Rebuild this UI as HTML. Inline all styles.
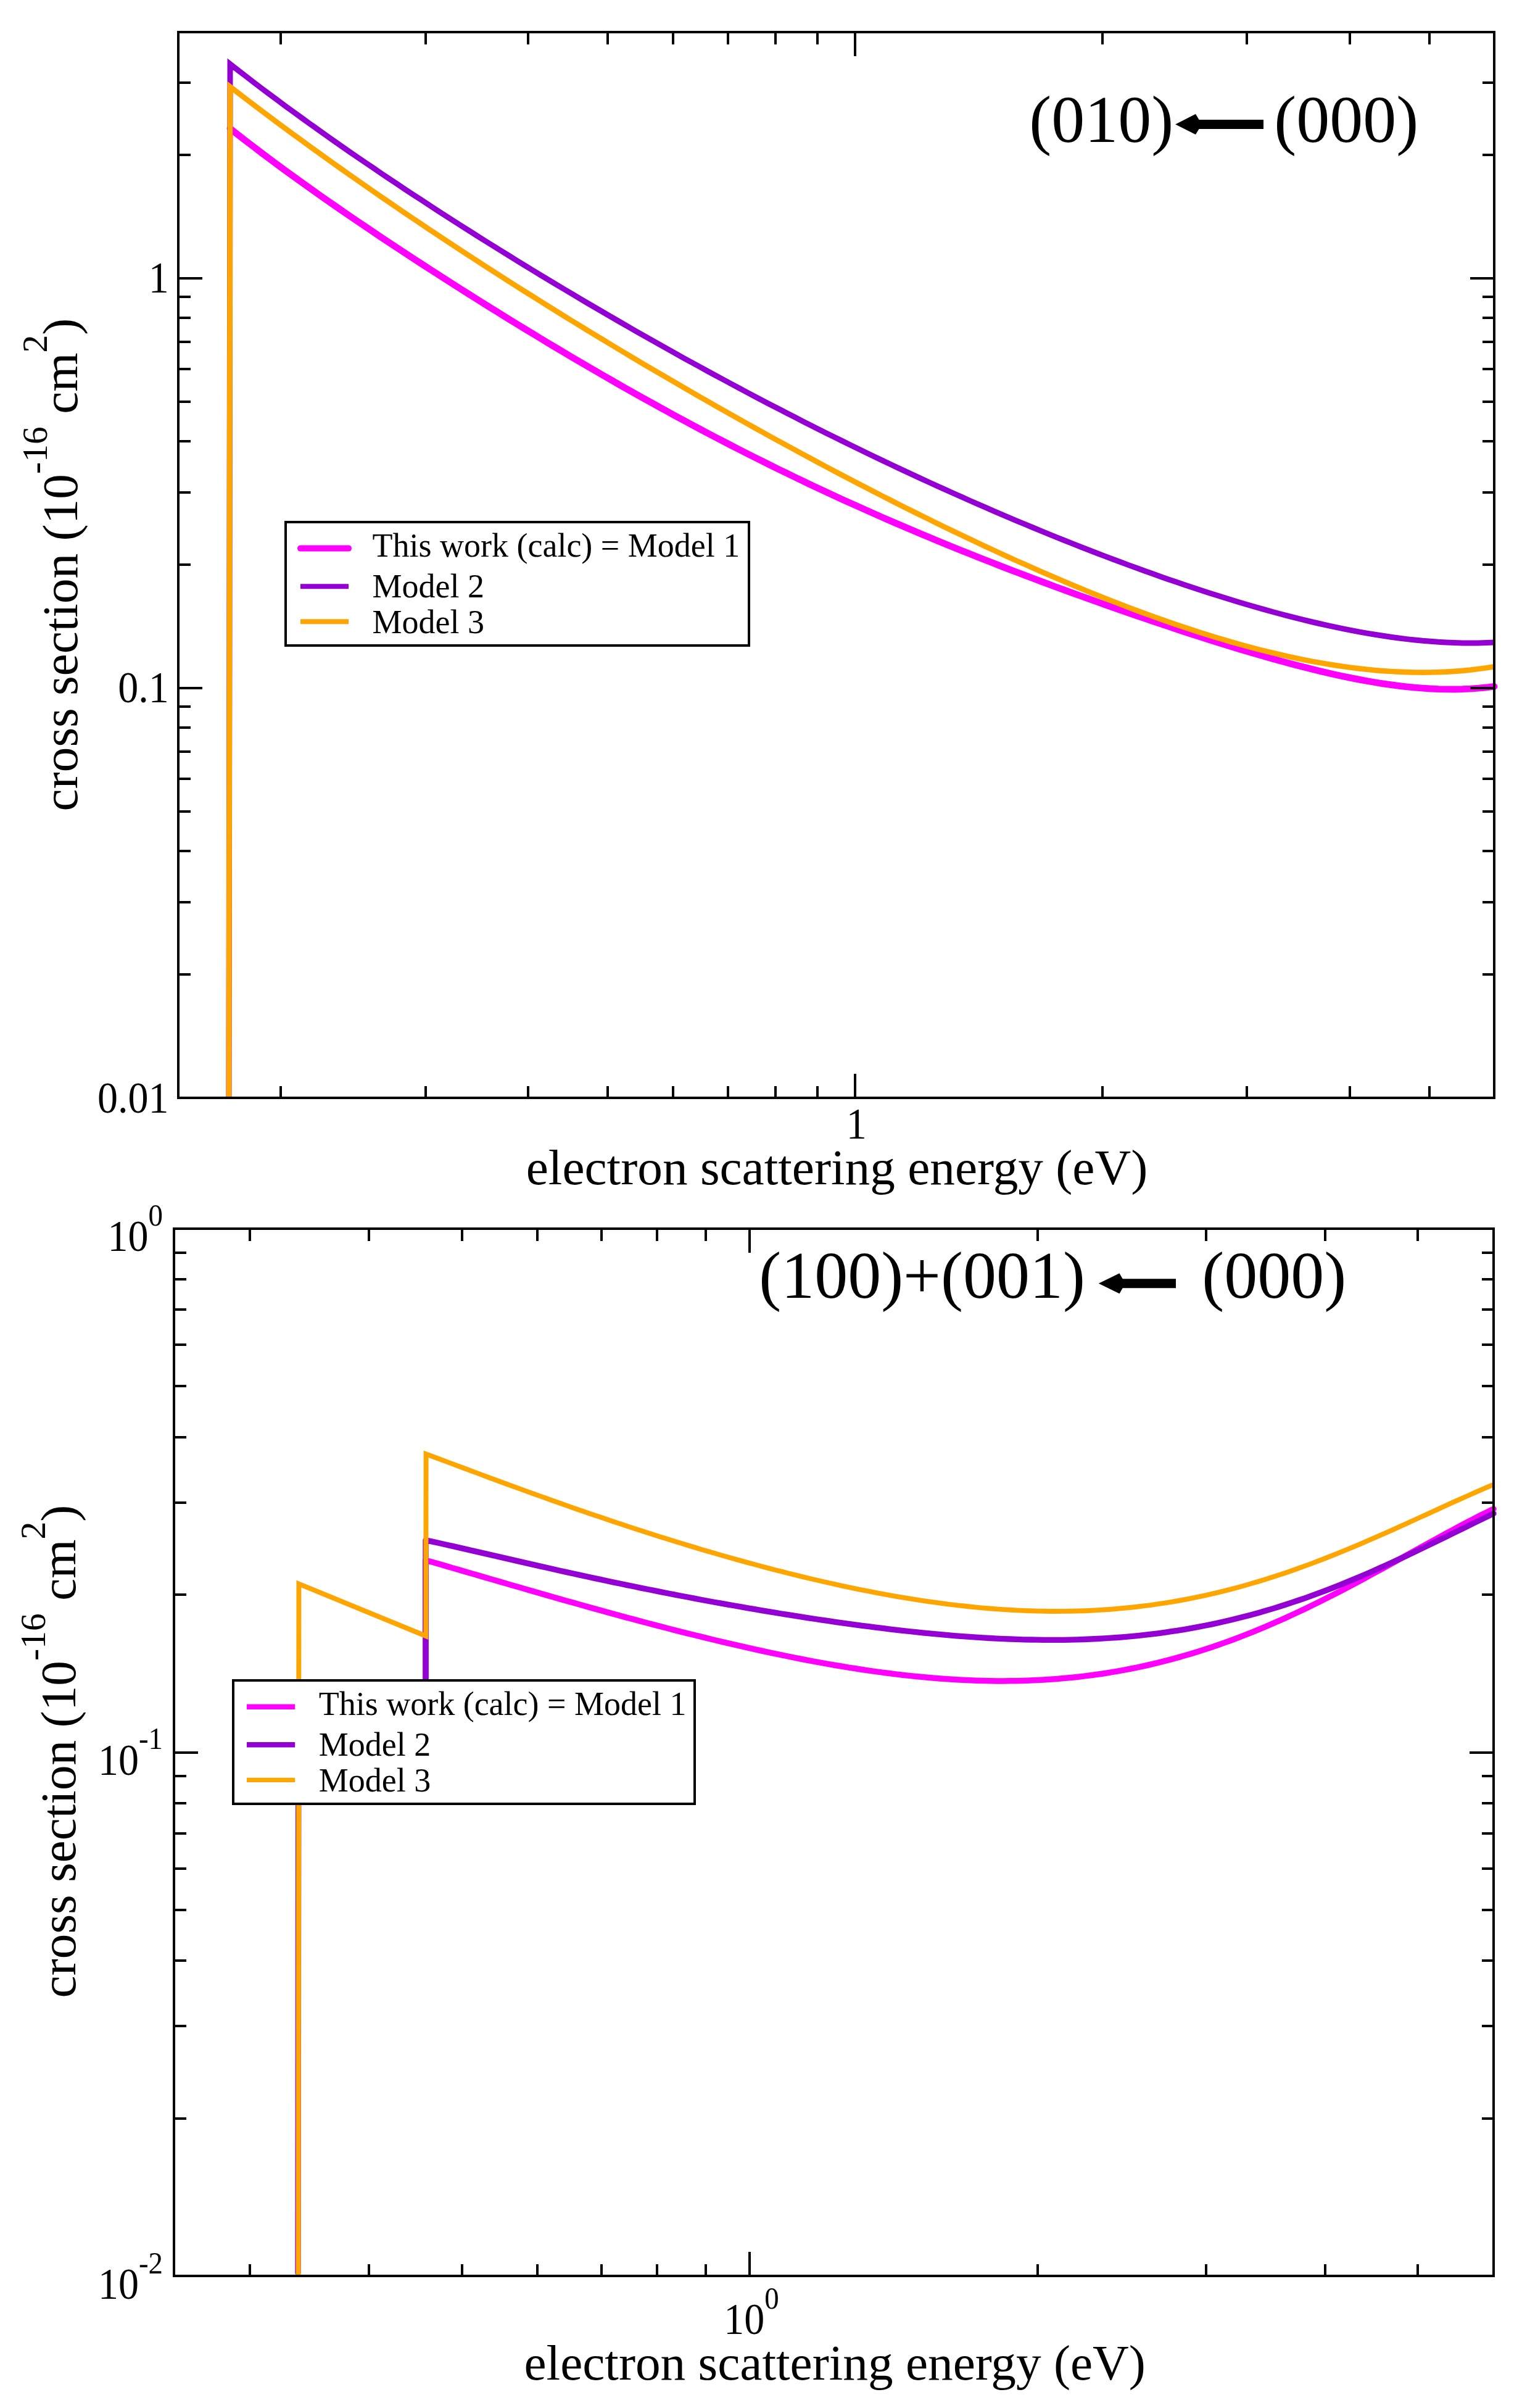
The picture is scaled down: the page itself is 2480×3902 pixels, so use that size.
<!DOCTYPE html>
<html><head><meta charset="utf-8"><title>cross sections</title>
<style>html,body{margin:0;padding:0;background:#fff}svg{display:block}text{font-family:"Liberation Serif",serif;fill:#000}</style>
</head><body>
<svg width="2480" height="3902" viewBox="0 0 2480 3902">
<rect width="2480" height="3902" fill="#fff"/>
<g fill="none" stroke-linejoin="miter" stroke-miterlimit="10">
<path d="M371,1779L373,208.3" stroke="#ff00ff" stroke-width="7"/>
<path d="M373.0,208.3 L385.9,218.5 L398.8,228.5 L411.7,238.3 L424.5,248.1 L437.4,257.8 L450.3,267.3 L463.2,276.8 L476.1,286.1 L489.0,295.4 L501.9,304.6 L514.8,313.8 L527.6,322.8 L540.5,331.8 L553.4,340.7 L566.3,349.6 L579.2,358.4 L592.1,367.1 L605.0,375.8 L617.8,384.4 L630.7,393.0 L643.6,401.5 L656.5,410.0 L669.4,418.5 L682.3,426.9 L695.2,435.2 L708.1,443.5 L720.9,451.8 L733.8,460.0 L746.7,468.2 L759.6,476.4 L772.5,484.5 L785.4,492.6 L798.3,500.6 L811.2,508.6 L824.0,516.6 L836.9,524.5 L849.8,532.4 L862.7,540.2 L875.6,548.0 L888.5,555.8 L901.4,563.5 L914.2,571.2 L927.1,578.8 L940.0,586.4 L952.9,593.9 L965.8,601.4 L978.7,608.9 L991.6,616.3 L1004.5,623.7 L1017.3,631.0 L1030.2,638.2 L1043.1,645.5 L1056.0,652.6 L1068.9,659.8 L1081.8,666.8 L1094.7,673.9 L1107.5,680.8 L1120.4,687.8 L1133.3,694.6 L1146.2,701.5 L1159.1,708.2 L1172.0,714.9 L1184.9,721.6 L1197.8,728.2 L1210.6,734.8 L1223.5,741.3 L1236.4,747.7 L1249.3,754.1 L1262.2,760.5 L1275.1,766.7 L1288.0,773.0 L1300.8,779.2 L1313.7,785.3 L1326.6,791.4 L1339.5,797.4 L1352.4,803.3 L1365.3,809.3 L1378.2,815.1 L1391.1,820.9 L1403.9,826.7 L1416.8,832.4 L1429.7,838.1 L1442.6,843.7 L1455.5,849.3 L1468.4,854.8 L1481.3,860.3 L1494.2,865.7 L1507.0,871.1 L1519.9,876.4 L1532.8,881.7 L1545.7,886.9 L1558.6,892.2 L1571.5,897.3 L1584.4,902.5 L1597.2,907.5 L1610.1,912.6 L1623.0,917.6 L1635.9,922.6 L1648.8,927.5 L1661.7,932.4 L1674.6,937.3 L1687.5,942.1 L1700.3,946.9 L1713.2,951.7 L1726.1,956.4 L1739.0,961.1 L1751.9,965.8 L1764.8,970.4 L1777.7,975.0 L1790.5,979.6 L1803.4,984.2 L1816.3,988.7 L1829.2,993.2 L1842.1,997.6 L1855.0,1002.0 L1867.9,1006.4 L1880.8,1010.7 L1893.6,1015.0 L1906.5,1019.3 L1919.4,1023.6 L1932.3,1027.8 L1945.2,1031.9 L1958.1,1036.0 L1971.0,1040.1 L1983.8,1044.1 L1996.7,1048.1 L2009.6,1052.0 L2022.5,1055.8 L2035.4,1059.6 L2048.3,1063.3 L2061.2,1067.0 L2074.1,1070.6 L2086.9,1074.1 L2099.8,1077.5 L2112.7,1080.8 L2125.6,1084.1 L2138.5,1087.2 L2151.4,1090.2 L2164.3,1093.2 L2177.2,1096.0 L2190.0,1098.6 L2202.9,1101.1 L2215.8,1103.5 L2228.7,1105.7 L2241.6,1107.8 L2254.5,1109.7 L2267.4,1111.4 L2280.2,1112.9 L2293.1,1114.2 L2306.0,1115.2 L2318.9,1116.0 L2331.8,1116.6 L2344.7,1116.9 L2357.6,1117.0 L2370.5,1116.7 L2383.3,1116.1 L2396.2,1115.2 L2409.1,1114.0 L2422.0,1112.4" stroke="#ff00ff" stroke-width="10.8" stroke-linecap="round" stroke-linejoin="round"/>
<path d="M371.0,1779.0 L373.0,103.8 L385.9,113.9 L398.8,123.8 L411.7,133.7 L424.5,143.5 L437.4,153.2 L450.3,162.7 L463.2,172.3 L476.1,181.7 L489.0,191.0 L501.9,200.3 L514.8,209.5 L527.6,218.7 L540.5,227.7 L553.4,236.7 L566.3,245.7 L579.2,254.6 L592.1,263.4 L605.0,272.1 L617.8,280.9 L630.7,289.5 L643.6,298.1 L656.5,306.7 L669.4,315.2 L682.3,323.6 L695.2,332.0 L708.1,340.4 L720.9,348.7 L733.8,357.0 L746.7,365.2 L759.6,373.4 L772.5,381.6 L785.4,389.7 L798.3,397.7 L811.2,405.8 L824.0,413.7 L836.9,421.7 L849.8,429.6 L862.7,437.5 L875.6,445.3 L888.5,453.1 L901.4,460.8 L914.2,468.5 L927.1,476.2 L940.0,483.9 L952.9,491.5 L965.8,499.0 L978.7,506.5 L991.6,514.0 L1004.5,521.5 L1017.3,528.9 L1030.2,536.3 L1043.1,543.6 L1056.0,550.9 L1068.9,558.2 L1081.8,565.4 L1094.7,572.6 L1107.5,579.8 L1120.4,586.9 L1133.3,593.9 L1146.2,601.0 L1159.1,608.0 L1172.0,614.9 L1184.9,621.9 L1197.8,628.7 L1210.6,635.6 L1223.5,642.4 L1236.4,649.2 L1249.3,655.9 L1262.2,662.6 L1275.1,669.2 L1288.0,675.8 L1300.8,682.4 L1313.7,688.9 L1326.6,695.4 L1339.5,701.9 L1352.4,708.3 L1365.3,714.6 L1378.2,721.0 L1391.1,727.3 L1403.9,733.5 L1416.8,739.7 L1429.7,745.9 L1442.6,752.0 L1455.5,758.1 L1468.4,764.1 L1481.3,770.1 L1494.2,776.1 L1507.0,782.0 L1519.9,787.9 L1532.8,793.7 L1545.7,799.5 L1558.6,805.2 L1571.5,811.0 L1584.4,816.6 L1597.2,822.2 L1610.1,827.8 L1623.0,833.3 L1635.9,838.8 L1648.8,844.3 L1661.7,849.7 L1674.6,855.0 L1687.5,860.4 L1700.3,865.6 L1713.2,870.8 L1726.1,876.0 L1739.0,881.1 L1751.9,886.2 L1764.8,891.2 L1777.7,896.2 L1790.5,901.1 L1803.4,906.0 L1816.3,910.8 L1829.2,915.6 L1842.1,920.3 L1855.0,925.0 L1867.9,929.6 L1880.8,934.2 L1893.6,938.7 L1906.5,943.1 L1919.4,947.5 L1932.3,951.8 L1945.2,956.0 L1958.1,960.2 L1971.0,964.3 L1983.8,968.3 L1996.7,972.3 L2009.6,976.2 L2022.5,980.0 L2035.4,983.8 L2048.3,987.4 L2061.2,991.0 L2074.1,994.5 L2086.9,997.9 L2099.8,1001.2 L2112.7,1004.4 L2125.6,1007.5 L2138.5,1010.5 L2151.4,1013.4 L2164.3,1016.2 L2177.2,1018.8 L2190.0,1021.4 L2202.9,1023.8 L2215.8,1026.1 L2228.7,1028.3 L2241.6,1030.3 L2254.5,1032.2 L2267.4,1034.0 L2280.2,1035.6 L2293.1,1037.0 L2306.0,1038.3 L2318.9,1039.3 L2331.8,1040.3 L2344.7,1041.0 L2357.6,1041.5 L2370.5,1041.9 L2383.3,1042.0 L2396.2,1041.9 L2409.1,1041.6 L2422.0,1041.1" stroke="#9400d3" stroke-width="9"/>
<path d="M371.0,1779.0 L373.0,140.6 L385.9,150.5 L398.8,160.4 L411.7,170.2 L424.5,179.9 L437.4,189.6 L450.3,199.2 L463.2,208.7 L476.1,218.2 L489.0,227.6 L501.9,237.0 L514.8,246.3 L527.6,255.5 L540.5,264.7 L553.4,273.9 L566.3,283.0 L579.2,292.0 L592.1,301.0 L605.0,310.0 L617.8,318.9 L630.7,327.7 L643.6,336.5 L656.5,345.3 L669.4,354.0 L682.3,362.7 L695.2,371.3 L708.1,379.9 L720.9,388.4 L733.8,396.9 L746.7,405.4 L759.6,413.8 L772.5,422.2 L785.4,430.6 L798.3,438.9 L811.2,447.1 L824.0,455.4 L836.9,463.6 L849.8,471.7 L862.7,479.8 L875.6,487.9 L888.5,496.0 L901.4,504.0 L914.2,512.0 L927.1,519.9 L940.0,527.8 L952.9,535.7 L965.8,543.5 L978.7,551.3 L991.6,559.1 L1004.5,566.9 L1017.3,574.6 L1030.2,582.2 L1043.1,589.9 L1056.0,597.5 L1068.9,605.1 L1081.8,612.6 L1094.7,620.1 L1107.5,627.6 L1120.4,635.0 L1133.3,642.4 L1146.2,649.8 L1159.1,657.2 L1172.0,664.5 L1184.9,671.8 L1197.8,679.0 L1210.6,686.2 L1223.5,693.4 L1236.4,700.5 L1249.3,707.7 L1262.2,714.7 L1275.1,721.8 L1288.0,728.8 L1300.8,735.8 L1313.7,742.7 L1326.6,749.6 L1339.5,756.5 L1352.4,763.3 L1365.3,770.1 L1378.2,776.8 L1391.1,783.6 L1403.9,790.2 L1416.8,796.9 L1429.7,803.5 L1442.6,810.0 L1455.5,816.6 L1468.4,823.1 L1481.3,829.5 L1494.2,835.9 L1507.0,842.2 L1519.9,848.6 L1532.8,854.8 L1545.7,861.0 L1558.6,867.2 L1571.5,873.3 L1584.4,879.4 L1597.2,885.5 L1610.1,891.4 L1623.0,897.4 L1635.9,903.2 L1648.8,909.1 L1661.7,914.8 L1674.6,920.5 L1687.5,926.2 L1700.3,931.8 L1713.2,937.3 L1726.1,942.8 L1739.0,948.2 L1751.9,953.6 L1764.8,958.9 L1777.7,964.1 L1790.5,969.2 L1803.4,974.3 L1816.3,979.3 L1829.2,984.2 L1842.1,989.1 L1855.0,993.8 L1867.9,998.5 L1880.8,1003.1 L1893.6,1007.7 L1906.5,1012.1 L1919.4,1016.4 L1932.3,1020.7 L1945.2,1024.8 L1958.1,1028.9 L1971.0,1032.9 L1983.8,1036.7 L1996.7,1040.5 L2009.6,1044.1 L2022.5,1047.6 L2035.4,1051.1 L2048.3,1054.4 L2061.2,1057.5 L2074.1,1060.6 L2086.9,1063.5 L2099.8,1066.3 L2112.7,1068.9 L2125.6,1071.5 L2138.5,1073.8 L2151.4,1076.0 L2164.3,1078.1 L2177.2,1080.0 L2190.0,1081.8 L2202.9,1083.4 L2215.8,1084.8 L2228.7,1086.1 L2241.6,1087.1 L2254.5,1088.0 L2267.4,1088.7 L2280.2,1089.2 L2293.1,1089.5 L2306.0,1089.6 L2318.9,1089.5 L2331.8,1089.2 L2344.7,1088.6 L2357.6,1087.8 L2370.5,1086.8 L2383.3,1085.6 L2396.2,1084.0 L2409.1,1082.3 L2422.0,1080.3" stroke="#ffa500" stroke-width="8.7"/>
<path d="M690.0,2805.0 L690.0,2528.2 L700.9,2531.3 L711.8,2534.4 L722.7,2537.6 L733.5,2540.7 L744.4,2543.9 L755.3,2547.1 L766.2,2550.2 L777.1,2553.4 L788.0,2556.6 L798.9,2559.7 L809.8,2562.9 L820.6,2566.0 L831.5,2569.2 L842.4,2572.3 L853.3,2575.5 L864.2,2578.6 L875.1,2581.7 L886.0,2584.9 L896.8,2588.0 L907.7,2591.1 L918.6,2594.2 L929.5,2597.2 L940.4,2600.3 L951.3,2603.3 L962.2,2606.4 L973.1,2609.4 L983.9,2612.4 L994.8,2615.4 L1005.7,2618.3 L1016.6,2621.3 L1027.5,2624.2 L1038.4,2627.1 L1049.3,2630.0 L1060.2,2632.8 L1071.0,2635.7 L1081.9,2638.5 L1092.8,2641.3 L1103.7,2644.1 L1114.6,2646.8 L1125.5,2649.5 L1136.4,2652.2 L1147.2,2654.9 L1158.1,2657.5 L1169.0,2660.1 L1179.9,2662.7 L1190.8,2665.2 L1201.7,2667.7 L1212.6,2670.2 L1223.5,2672.6 L1234.3,2675.0 L1245.2,2677.3 L1256.1,2679.6 L1267.0,2681.9 L1277.9,2684.1 L1288.8,2686.3 L1299.7,2688.5 L1310.5,2690.6 L1321.4,2692.6 L1332.3,2694.6 L1343.2,2696.6 L1354.1,2698.5 L1365.0,2700.3 L1375.9,2702.1 L1386.8,2703.8 L1397.6,2705.5 L1408.5,2707.1 L1419.4,2708.6 L1430.3,2710.1 L1441.2,2711.5 L1452.1,2712.9 L1463.0,2714.2 L1473.8,2715.4 L1484.7,2716.5 L1495.6,2717.6 L1506.5,2718.6 L1517.4,2719.5 L1528.3,2720.3 L1539.2,2721.1 L1550.1,2721.7 L1560.9,2722.3 L1571.8,2722.8 L1582.7,2723.2 L1593.6,2723.5 L1604.5,2723.7 L1615.4,2723.9 L1626.3,2723.9 L1637.2,2723.8 L1648.0,2723.7 L1658.9,2723.4 L1669.8,2723.0 L1680.7,2722.5 L1691.6,2722.0 L1702.5,2721.3 L1713.4,2720.5 L1724.2,2719.6 L1735.1,2718.5 L1746.0,2717.4 L1756.9,2716.1 L1767.8,2714.8 L1778.7,2713.3 L1789.6,2711.7 L1800.5,2709.9 L1811.3,2708.1 L1822.2,2706.1 L1833.1,2704.0 L1844.0,2701.8 L1854.9,2699.5 L1865.8,2697.0 L1876.7,2694.4 L1887.5,2691.7 L1898.4,2688.9 L1909.3,2685.9 L1920.2,2682.8 L1931.1,2679.6 L1942.0,2676.2 L1952.9,2672.8 L1963.8,2669.2 L1974.6,2665.5 L1985.5,2661.6 L1996.4,2657.7 L2007.3,2653.6 L2018.2,2649.4 L2029.1,2645.1 L2040.0,2640.6 L2050.8,2636.1 L2061.7,2631.4 L2072.6,2626.7 L2083.5,2621.8 L2094.4,2616.8 L2105.3,2611.7 L2116.2,2606.6 L2127.1,2601.3 L2137.9,2595.9 L2148.8,2590.5 L2159.7,2585.0 L2170.6,2579.4 L2181.5,2573.7 L2192.4,2568.0 L2203.3,2562.2 L2214.2,2556.3 L2225.0,2550.4 L2235.9,2544.5 L2246.8,2538.5 L2257.7,2532.5 L2268.6,2526.5 L2279.5,2520.4 L2290.4,2514.4 L2301.2,2508.4 L2312.1,2502.3 L2323.0,2496.3 L2333.9,2490.4 L2344.8,2484.4 L2355.7,2478.6 L2366.6,2472.7 L2377.5,2467.0 L2388.3,2461.4 L2399.2,2455.8 L2410.1,2450.4 L2421.0,2445.0" stroke="#ff00ff" stroke-width="9.5" stroke-linecap="round" stroke-linejoin="round"/>
<path d="M483.0,3683.0 L483.9,2730.0 L690.0,2790.0 L690.0,2495.7 L700.9,2498.1 L711.8,2500.5 L722.7,2503.0 L733.5,2505.4 L744.4,2507.9 L755.3,2510.4 L766.2,2512.9 L777.1,2515.4 L788.0,2517.9 L798.9,2520.4 L809.8,2522.9 L820.6,2525.4 L831.5,2527.9 L842.4,2530.4 L853.3,2532.9 L864.2,2535.4 L875.1,2537.9 L886.0,2540.3 L896.8,2542.8 L907.7,2545.2 L918.6,2547.6 L929.5,2550.0 L940.4,2552.4 L951.3,2554.8 L962.2,2557.1 L973.1,2559.4 L983.9,2561.8 L994.8,2564.1 L1005.7,2566.3 L1016.6,2568.6 L1027.5,2570.8 L1038.4,2573.1 L1049.3,2575.3 L1060.2,2577.4 L1071.0,2579.6 L1081.9,2581.7 L1092.8,2583.9 L1103.7,2586.0 L1114.6,2588.0 L1125.5,2590.1 L1136.4,2592.2 L1147.2,2594.2 L1158.1,2596.2 L1169.0,2598.1 L1179.9,2600.1 L1190.8,2602.0 L1201.7,2603.9 L1212.6,2605.8 L1223.5,2607.7 L1234.3,2609.6 L1245.2,2611.4 L1256.1,2613.2 L1267.0,2615.0 L1277.9,2616.7 L1288.8,2618.4 L1299.7,2620.1 L1310.5,2621.8 L1321.4,2623.5 L1332.3,2625.1 L1343.2,2626.7 L1354.1,2628.3 L1365.0,2629.8 L1375.9,2631.3 L1386.8,2632.8 L1397.6,2634.3 L1408.5,2635.7 L1419.4,2637.1 L1430.3,2638.4 L1441.2,2639.8 L1452.1,2641.1 L1463.0,2642.3 L1473.8,2643.5 L1484.7,2644.7 L1495.6,2645.8 L1506.5,2646.9 L1517.4,2647.9 L1528.3,2648.9 L1539.2,2649.9 L1550.1,2650.8 L1560.9,2651.6 L1571.8,2652.4 L1582.7,2653.2 L1593.6,2653.9 L1604.5,2654.5 L1615.4,2655.1 L1626.3,2655.6 L1637.2,2656.0 L1648.0,2656.4 L1658.9,2656.8 L1669.8,2657.0 L1680.7,2657.2 L1691.6,2657.3 L1702.5,2657.4 L1713.4,2657.4 L1724.2,2657.3 L1735.1,2657.1 L1746.0,2656.8 L1756.9,2656.5 L1767.8,2656.0 L1778.7,2655.5 L1789.6,2654.9 L1800.5,2654.2 L1811.3,2653.5 L1822.2,2652.6 L1833.1,2651.6 L1844.0,2650.6 L1854.9,2649.4 L1865.8,2648.1 L1876.7,2646.8 L1887.5,2645.3 L1898.4,2643.7 L1909.3,2642.1 L1920.2,2640.3 L1931.1,2638.4 L1942.0,2636.4 L1952.9,2634.3 L1963.8,2632.1 L1974.6,2629.7 L1985.5,2627.3 L1996.4,2624.7 L2007.3,2622.1 L2018.2,2619.3 L2029.1,2616.4 L2040.0,2613.4 L2050.8,2610.3 L2061.7,2607.1 L2072.6,2603.7 L2083.5,2600.3 L2094.4,2596.7 L2105.3,2593.0 L2116.2,2589.3 L2127.1,2585.4 L2137.9,2581.4 L2148.8,2577.3 L2159.7,2573.1 L2170.6,2568.8 L2181.5,2564.4 L2192.4,2559.9 L2203.3,2555.4 L2214.2,2550.7 L2225.0,2546.0 L2235.9,2541.1 L2246.8,2536.3 L2257.7,2531.3 L2268.6,2526.3 L2279.5,2521.2 L2290.4,2516.0 L2301.2,2510.8 L2312.1,2505.6 L2323.0,2500.3 L2333.9,2495.0 L2344.8,2489.7 L2355.7,2484.4 L2366.6,2479.0 L2377.5,2473.7 L2388.3,2468.4 L2399.2,2463.1 L2410.1,2457.8 L2421.0,2452.6" stroke="#9400d3" stroke-width="9.3" stroke-linecap="round" stroke-linejoin="round"/>
<path d="M483.5,3688.0 L484.4,2566.6 L690.3,2651.0 L690.6,2356.2 L701.5,2360.2 L712.4,2364.3 L723.2,2368.4 L734.1,2372.4 L745.0,2376.5 L755.9,2380.5 L766.8,2384.6 L777.7,2388.6 L788.5,2392.7 L799.4,2396.7 L810.3,2400.7 L821.2,2404.7 L832.1,2408.7 L843.0,2412.6 L853.8,2416.6 L864.7,2420.5 L875.6,2424.4 L886.5,2428.3 L897.4,2432.2 L908.3,2436.0 L919.1,2439.9 L930.0,2443.7 L940.9,2447.4 L951.8,2451.2 L962.7,2454.9 L973.6,2458.6 L984.4,2462.3 L995.3,2465.9 L1006.2,2469.6 L1017.1,2473.2 L1028.0,2476.7 L1038.9,2480.2 L1049.7,2483.8 L1060.6,2487.2 L1071.5,2490.7 L1082.4,2494.1 L1093.3,2497.5 L1104.2,2500.8 L1115.0,2504.1 L1125.9,2507.4 L1136.8,2510.7 L1147.7,2513.9 L1158.6,2517.0 L1169.5,2520.2 L1180.3,2523.3 L1191.2,2526.4 L1202.1,2529.4 L1213.0,2532.4 L1223.9,2535.3 L1234.8,2538.2 L1245.6,2541.1 L1256.5,2544.0 L1267.4,2546.7 L1278.3,2549.5 L1289.2,2552.2 L1300.0,2554.8 L1310.9,2557.5 L1321.8,2560.0 L1332.7,2562.5 L1343.6,2565.0 L1354.5,2567.4 L1365.3,2569.8 L1376.2,2572.1 L1387.1,2574.4 L1398.0,2576.6 L1408.9,2578.7 L1419.8,2580.8 L1430.6,2582.9 L1441.5,2584.9 L1452.4,2586.8 L1463.3,2588.6 L1474.2,2590.4 L1485.1,2592.2 L1495.9,2593.8 L1506.8,2595.4 L1517.7,2596.9 L1528.6,2598.4 L1539.5,2599.8 L1550.4,2601.1 L1561.2,2602.3 L1572.1,2603.5 L1583.0,2604.6 L1593.9,2605.6 L1604.8,2606.5 L1615.7,2607.4 L1626.5,2608.1 L1637.4,2608.8 L1648.3,2609.4 L1659.2,2609.9 L1670.1,2610.3 L1681.0,2610.6 L1691.8,2610.8 L1702.7,2611.0 L1713.6,2611.0 L1724.5,2610.9 L1735.4,2610.8 L1746.3,2610.5 L1757.1,2610.2 L1768.0,2609.7 L1778.9,2609.1 L1789.8,2608.5 L1800.7,2607.7 L1811.6,2606.8 L1822.4,2605.8 L1833.3,2604.7 L1844.2,2603.5 L1855.1,2602.2 L1866.0,2600.8 L1876.8,2599.2 L1887.7,2597.6 L1898.6,2595.8 L1909.5,2594.0 L1920.4,2592.0 L1931.3,2589.9 L1942.1,2587.6 L1953.0,2585.3 L1963.9,2582.9 L1974.8,2580.3 L1985.7,2577.6 L1996.6,2574.9 L2007.4,2572.0 L2018.3,2569.0 L2029.2,2565.8 L2040.1,2562.6 L2051.0,2559.3 L2061.9,2555.8 L2072.7,2552.3 L2083.6,2548.7 L2094.5,2544.9 L2105.4,2541.1 L2116.3,2537.1 L2127.2,2533.1 L2138.0,2529.0 L2148.9,2524.8 L2159.8,2520.5 L2170.7,2516.1 L2181.6,2511.7 L2192.5,2507.2 L2203.3,2502.6 L2214.2,2497.9 L2225.1,2493.2 L2236.0,2488.4 L2246.9,2483.6 L2257.8,2478.8 L2268.6,2473.9 L2279.5,2469.0 L2290.4,2464.0 L2301.3,2459.0 L2312.2,2454.1 L2323.1,2449.1 L2333.9,2444.1 L2344.8,2439.2 L2355.7,2434.2 L2366.6,2429.3 L2377.5,2424.5 L2388.4,2419.7 L2399.2,2414.9 L2410.1,2410.2 L2421.0,2405.6" stroke="#ffa500" stroke-width="7.9"/>
</g>
<g shape-rendering="crispEdges">
<rect x="289" y="52" width="2133" height="1727" fill="none" stroke="#000" stroke-width="4"/>
<path d="M1386.0,1779v-39M1386.0,52v39M455.3,1779v-19.5M455.3,52v19.5M689.8,1779v-19.5M689.8,52v19.5M856.1,1779v-19.5M856.1,52v19.5M985.2,1779v-19.5M985.2,52v19.5M1090.6,1779v-19.5M1090.6,52v19.5M1179.7,1779v-19.5M1179.7,52v19.5M1256.9,1779v-19.5M1256.9,52v19.5M1325.0,1779v-19.5M1325.0,52v19.5M1786.8,1779v-19.5M1786.8,52v19.5M2021.2,1779v-19.5M2021.2,52v19.5M2187.6,1779v-19.5M2187.6,52v19.5M2316.6,1779v-19.5M2316.6,52v19.5M289,1115.0h39M2422,1115.0h-39M289,451.0h39M2422,451.0h-39M289,1579.1h19.5M2422,1579.1h-19.5M289,1462.2h19.5M2422,1462.2h-19.5M289,1379.2h19.5M2422,1379.2h-19.5M289,1314.9h19.5M2422,1314.9h-19.5M289,1262.3h19.5M2422,1262.3h-19.5M289,1217.9h19.5M2422,1217.9h-19.5M289,1179.3h19.5M2422,1179.3h-19.5M289,1145.4h19.5M2422,1145.4h-19.5M289,915.1h19.5M2422,915.1h-19.5M289,798.2h19.5M2422,798.2h-19.5M289,715.2h19.5M2422,715.2h-19.5M289,650.9h19.5M2422,650.9h-19.5M289,598.3h19.5M2422,598.3h-19.5M289,553.9h19.5M2422,553.9h-19.5M289,515.3h19.5M2422,515.3h-19.5M289,481.4h19.5M2422,481.4h-19.5M289,251.1h19.5M2422,251.1h-19.5M289,134.2h19.5M2422,134.2h-19.5" fill="none" stroke="#000" stroke-width="4"/>
<rect x="282" y="1991" width="2139" height="1697" fill="none" stroke="#000" stroke-width="4"/>
<path d="M1215.1,3688v-39M1215.1,1991v39M404.7,3688v-19.5M404.7,1991v19.5M598.3,3688v-19.5M598.3,1991v19.5M748.5,3688v-19.5M748.5,1991v19.5M871.2,3688v-19.5M871.2,1991v19.5M975.0,3688v-19.5M975.0,1991v19.5M1064.9,3688v-19.5M1064.9,1991v19.5M1144.1,3688v-19.5M1144.1,1991v19.5M1681.6,3688v-19.5M1681.6,1991v19.5M1954.5,3688v-19.5M1954.5,1991v19.5M2148.1,3688v-19.5M2148.1,1991v19.5M2298.3,3688v-19.5M2298.3,1991v19.5M282,2839.5h39M2421,2839.5h-39M282,3432.6h19.5M2421,3432.6h-19.5M282,3283.2h19.5M2421,3283.2h-19.5M282,3177.2h19.5M2421,3177.2h-19.5M282,3094.9h19.5M2421,3094.9h-19.5M282,3027.7h19.5M2421,3027.7h-19.5M282,2970.9h19.5M2421,2970.9h-19.5M282,2921.7h19.5M2421,2921.7h-19.5M282,2878.3h19.5M2421,2878.3h-19.5M282,2584.1h19.5M2421,2584.1h-19.5M282,2434.7h19.5M2421,2434.7h-19.5M282,2328.7h19.5M2421,2328.7h-19.5M282,2246.4h19.5M2421,2246.4h-19.5M282,2179.2h19.5M2421,2179.2h-19.5M282,2122.4h19.5M2421,2122.4h-19.5M282,2073.2h19.5M2421,2073.2h-19.5M282,2029.8h19.5M2421,2029.8h-19.5" fill="none" stroke="#000" stroke-width="4"/>
</g>
<rect x="463" y="846.3" width="750.5" height="199.5" fill="#fff" stroke="#000" stroke-width="4" shape-rendering="crispEdges"/>
<path d="M487,888.5999999999999H565" stroke="#ff00ff" stroke-width="10" stroke-linecap="round"/>
<path d="M487,950.1999999999999H565" stroke="#9400d3" stroke-width="8"/>
<path d="M487,1007.3H565" stroke="#ffa500" stroke-width="8"/>
<text x="603.5" y="902.1999999999999" font-size="54">This work (calc) = Model 1</text>
<text x="603.5" y="967.9" font-size="54">Model 2</text>
<text x="603.5" y="1025.8" font-size="54">Model 3</text>
<rect x="378.2" y="2723.4" width="747.3" height="199.5" fill="#fff" stroke="#000" stroke-width="4" shape-rendering="crispEdges"/>
<path d="M400,2765.7000000000003H478.2" stroke="#ff00ff" stroke-width="8.5"/>
<path d="M400,2827.3H478.2" stroke="#9400d3" stroke-width="8.5"/>
<path d="M400,2884.4H478.2" stroke="#ffa500" stroke-width="7.3"/>
<text x="516.7" y="2779.3" font-size="54">This work (calc) = Model 1</text>
<text x="516.7" y="2845.0" font-size="54">Model 2</text>
<text x="516.7" y="2902.9" font-size="54">Model 3</text>
<text transform="translate(273.8,474) scale(0.93,1)" font-size="71" text-anchor="end">1</text>
<text transform="translate(273.8,1138.3) scale(0.93,1)" font-size="71" text-anchor="end">0.1</text>
<text transform="translate(273.5,1802.5) scale(0.93,1)" font-size="71" text-anchor="end">0.01</text>
<text transform="translate(1388.3,1845.2) scale(0.93,1)" font-size="71" text-anchor="middle">1</text>
<text transform="translate(264,2027.3) scale(0.93,1)" font-size="71" text-anchor="end">10<tspan font-size="50.4" dy="-41.1">0</tspan></text>
<text transform="translate(264,2875.5) scale(0.93,1)" font-size="71" text-anchor="end">10<tspan font-size="50.4" dy="-41.1">-1</tspan></text>
<text transform="translate(264,3724.7) scale(0.93,1)" font-size="71" text-anchor="end">10<tspan font-size="50.4" dy="-41.1">-2</tspan></text>
<text transform="translate(1262.8,3781.6) scale(0.93,1)" font-size="71" text-anchor="end">10<tspan font-size="50.4" dy="-41.1">0</tspan></text>
<text x="1356.5" y="1918.8" font-size="81.3" text-anchor="middle">electron scattering energy (eV)</text>
<text x="1353.2" y="3855.7" font-size="81.3" text-anchor="middle">electron scattering energy (eV)</text>
<text transform="translate(124.6,915) rotate(-90)" font-size="81.3" text-anchor="middle">cross section (10<tspan font-size="57.7" dy="-48.8">-16</tspan><tspan dy="48.8"> cm</tspan><tspan font-size="57.7" dy="-48.8">2</tspan><tspan dy="48.8">)</tspan></text>
<text transform="translate(122,2838) rotate(-90)" font-size="81.3" text-anchor="middle">cross section (10<tspan font-size="57.7" dy="-48.8">-16</tspan><tspan dy="48.8"> cm</tspan><tspan font-size="57.7" dy="-48.8">2</tspan><tspan dy="48.8">)</tspan></text>
<text x="1668.2" y="230.2" font-size="108">(010)</text>
<text x="2065.3" y="230.2" font-size="108">(000)</text>
<path d="M1943,201.4H2048" stroke="#000" stroke-width="15" fill="none"/>
<path d="M1905.2,201.4L1938,184.7L1948,201.4L1938,218.1Z" fill="#000"/>
<text x="1230.2" y="2102.7" font-size="108">(100)+(001)</text>
<text x="1948.2" y="2102.7" font-size="108">(000)</text>
<path d="M1818,2079.7H1906" stroke="#000" stroke-width="15" fill="none"/>
<path d="M1780.8,2079.7L1814.5,2063.2L1824,2079.7L1814.5,2096.2Z" fill="#000"/>
</svg></body></html>
